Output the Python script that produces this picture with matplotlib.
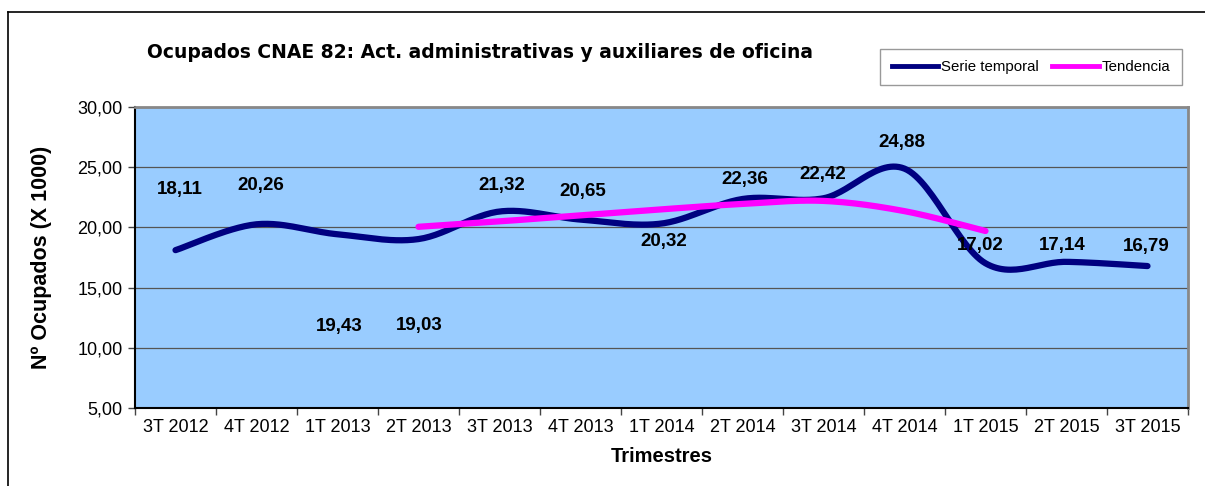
import numpy as np
import matplotlib.pyplot as plt
from matplotlib.lines import Line2D

trimestres = ['3T 2012', '4T 2012', '1T 2013', '2T 2013', '3T 2013', '4T 2013',
              '1T 2014', '2T 2014', '3T 2014', '4T 2014', '1T 2015', '2T 2015', '3T 2015']
ocupados = [18.11, 20.26, 19.43, 19.03, 21.32, 20.65, 20.32, 22.36, 22.42,
            24.88, 17.02, 17.14, 16.79]
etiquetas = ['18,11', '20,26', '19,43', '19,03', '21,32', '20,65', '20,32',
             '22,36', '22,42', '24,88', '17,02', '17,14', '16,79']
# tendencia: de 2T 2013 a 1T 2015
tend_inicio = 3
tendencia = [20.05, 20.5, 21.0, 21.5, 21.95, 22.2, 21.35, 19.7]

# desplazamiento de las etiquetas (pixeles)
lab_dx = [4, 4, 2, 1, 2, 2, 2, 2, -1, -3, -5, -4, -1]
lab_dy = [61, 39, -92, -86, 26, 28, -18, 19, 24, 26, 18, 16, 20]

NAVY = '#000080'
MAGENTA = '#FF00FF'
FONDO = '#99CCFF'


def suavizar(x, y, n=30):
    # curva suavizada tipo Excel (Catmull-Rom / Bezier)
    x = np.asarray(x, float)
    y = np.asarray(y, float)
    p = np.column_stack([x, y])
    p = np.vstack([p[0], p, p[-1]])
    out = []
    t = np.linspace(0, 1, n)
    for i in range(1, len(p) - 2):
        p0, p1, p2, p3 = p[i - 1], p[i], p[i + 1], p[i + 2]
        c1 = p1 + (p2 - p0) / 6.0
        c2 = p2 - (p3 - p1) / 6.0
        seg = ((1 - t) ** 3)[:, None] * p1 + (3 * (1 - t) ** 2 * t)[:, None] * c1 \
            + (3 * (1 - t) * t ** 2)[:, None] * c2 + (t ** 3)[:, None] * p2
        out.append(seg if i == 1 else seg[1:])
    out = np.vstack(out)
    return out[:, 0], out[:, 1]


plt.rcParams['font.family'] = ['Liberation Sans', 'DejaVu Sans']

fig = plt.figure(figsize=(12.05, 4.86), dpi=100)
ax = fig.add_axes([135 / 1205, 1 - 408 / 486, 1053 / 1205, 301 / 486])
ax.set_facecolor(FONDO)

x = np.arange(len(trimestres))
xs, ys = suavizar(x, ocupados)
ax.plot(xs, ys, color=NAVY, lw=4.5, solid_capstyle='round', zorder=3,
        label='Serie temporal')
xt = x[tend_inicio:tend_inicio + len(tendencia)]
xs2, ys2 = suavizar(xt, tendencia)
ax.plot(xs2, ys2, color=MAGENTA, lw=4.5, solid_capstyle='round', zorder=4,
        label='Tendencia')

for i, (v, t) in enumerate(zip(ocupados, etiquetas)):
    ax.annotate(t, (x[i], v), xytext=(lab_dx[i], lab_dy[i]),
                textcoords='offset pixels', ha='center', va='center',
                fontsize=13.5, fontweight='bold', zorder=5)

ax.set_xlim(-0.5, len(trimestres) - 0.5)
ax.set_ylim(5, 30)
ax.set_yticks(np.arange(5, 31, 5))
ax.set_yticklabels([('%.2f' % v).replace('.', ',') for v in np.arange(5, 31, 5)])
ax.yaxis.grid(True, color='#555555', lw=0.9)
ax.set_axisbelow(True)

ax.set_xticks(np.arange(-0.5, len(trimestres)), labels=[])
ax.set_xticks(x, labels=trimestres, minor=True)
ax.tick_params(axis='x', which='minor', length=0, pad=8, labelsize=13)
ax.tick_params(axis='x', which='major', length=5, width=1, color='#444444')
ax.tick_params(axis='y', length=5, width=1, color='#444444', labelsize=13, pad=4)

for s in ['left', 'bottom']:
    ax.spines[s].set_color('black')
    ax.spines[s].set_linewidth(1.5)
for s in ['top', 'right']:
    ax.spines[s].set_color('#888888')
    ax.spines[s].set_linewidth(2)

ax.set_xlabel('Trimestres', fontsize=14.5, fontweight='bold', labelpad=8)
ax.set_ylabel('Nº Ocupados (X 1000)', fontsize=15.5, fontweight='bold', labelpad=18)

fig.text(480 / 1205, 1 - 53 / 486,
         'Ocupados CNAE 82: Act. administrativas y auxiliares de oficina',
         ha='center', va='center', fontsize=13.5, fontweight='bold',
         family=['DejaVu Sans'])

handles = [Line2D([], [], color=NAVY, lw=3.5), Line2D([], [], color=MAGENTA, lw=3.5)]
leg = fig.legend(handles, ['Serie temporal', 'Tendencia'], ncol=2,
                 loc='center', bbox_to_anchor=(1031 / 1205, 1 - 67 / 486),
                 fontsize=10.8, frameon=True, fancybox=False, edgecolor='#808080',
                 handlelength=3.1, handletextpad=0.2, columnspacing=0.9,
                 borderpad=0.75, borderaxespad=0)
leg.get_frame().set_linewidth(1)

# marco exterior del grafico
fig.add_artist(Line2D([8 / 1205, 8 / 1205], [0, 1 - 12 / 486], color='black',
                      lw=1.2, transform=fig.transFigure))
fig.add_artist(Line2D([8 / 1205, 1], [1 - 12 / 486, 1 - 12 / 486], color='black',
                      lw=1.2, transform=fig.transFigure))

fig.savefig('out.png', dpi=100)
